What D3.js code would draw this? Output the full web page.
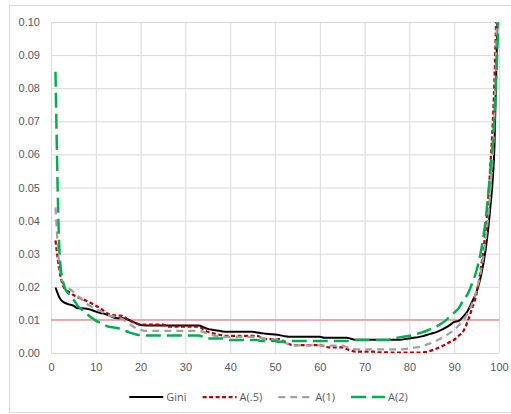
<!DOCTYPE html>
<html>
<head>
<meta charset="utf-8">
<script src="https://cdn.jsdelivr.net/npm/d3@7"></script>
<style>
  html, body { margin: 0; padding: 0; background: #fff; }
  svg { display: block; font-family: "Open Sans", "Liberation Sans", sans-serif; }
</style>
</head>
<body>
<svg id="chart" width="511" height="414"></svg>
<script>
// percentile index on the x axis
const percentile = d3.range(1, 101);

const gini = [
  0.0198, 0.0165, 0.0152, 0.0147, 0.0143, 0.0135, 0.0135, 0.0134, 0.0130, 0.0125,
  0.0121, 0.0118, 0.0113, 0.0107, 0.0105, 0.0105, 0.0102, 0.0096, 0.0090, 0.0085,
  0.0083, 0.0083, 0.0083, 0.0083, 0.0083, 0.0083, 0.0083, 0.0083, 0.0083, 0.0083,
  0.0083, 0.0083, 0.0083, 0.0078, 0.0073, 0.0070, 0.0068, 0.0066, 0.0064, 0.0064,
  0.0064, 0.0064, 0.0064, 0.0064, 0.0064, 0.0062, 0.0060, 0.0058, 0.0057, 0.0056,
  0.0054, 0.0051, 0.0049, 0.0049, 0.0049, 0.0049, 0.0049, 0.0049, 0.0049, 0.0049,
  0.0046, 0.0046, 0.0046, 0.0046, 0.0046, 0.0046, 0.0043, 0.0040, 0.0040, 0.0040,
  0.0040, 0.0040, 0.0040, 0.0040, 0.0040, 0.0040, 0.0040, 0.0040, 0.0042, 0.0044,
  0.0046, 0.0048, 0.0051, 0.0055, 0.0059, 0.0063, 0.0069, 0.0076, 0.0084, 0.0094,
  0.0097, 0.0110, 0.0127, 0.0155, 0.0185, 0.0235, 0.0310, 0.0430, 0.0630, 0.1200
];

const a05 = [
  0.0340, 0.0240, 0.0195, 0.0185, 0.0175, 0.0168, 0.0163, 0.0157, 0.0150, 0.0143,
  0.0135, 0.0125, 0.0117, 0.0114, 0.0113, 0.0112, 0.0103, 0.0095, 0.0089, 0.0086,
  0.0086, 0.0086, 0.0086, 0.0086, 0.0086, 0.0080, 0.0080, 0.0080, 0.0080, 0.0080,
  0.0080, 0.0080, 0.0080, 0.0071, 0.0064, 0.0060, 0.0057, 0.0054, 0.0052, 0.0052,
  0.0052, 0.0052, 0.0052, 0.0052, 0.0052, 0.0052, 0.0046, 0.0042, 0.0042, 0.0042,
  0.0042, 0.0035, 0.0028, 0.0024, 0.0024, 0.0024, 0.0024, 0.0024, 0.0024, 0.0024,
  0.0020, 0.0017, 0.0017, 0.0017, 0.0017, 0.0012, 0.0007, 0.0004, 0.0004, 0.0004,
  0.0004, 0.0004, 0.0002, 0.0002, 0.0002, 0.0001, 0.0001, 0.0001, 0.0001, 0.0001,
  0.0001, 0.0001, 0.0002, 0.0004, 0.0008, 0.0013, 0.0019, 0.0025, 0.0033, 0.0040,
  0.0052, 0.0065, 0.0095, 0.0135, 0.0180, 0.0260, 0.0370, 0.0550, 0.0830, 0.1400
];

const a1 = [
  0.0440, 0.0250, 0.0205, 0.0195, 0.0185, 0.0172, 0.0160, 0.0148, 0.0140, 0.0133,
  0.0127, 0.0120, 0.0113, 0.0110, 0.0106, 0.0102, 0.0092, 0.0083, 0.0075, 0.0070,
  0.0067, 0.0067, 0.0067, 0.0067, 0.0067, 0.0067, 0.0067, 0.0067, 0.0067, 0.0067,
  0.0067, 0.0067, 0.0067, 0.0063, 0.0058, 0.0054, 0.0051, 0.0049, 0.0049, 0.0049,
  0.0049, 0.0049, 0.0049, 0.0049, 0.0049, 0.0049, 0.0045, 0.0041, 0.0041, 0.0041,
  0.0041, 0.0033, 0.0026, 0.0023, 0.0023, 0.0023, 0.0023, 0.0023, 0.0023, 0.0023,
  0.0022, 0.0022, 0.0022, 0.0022, 0.0022, 0.0018, 0.0014, 0.0011, 0.0011, 0.0011,
  0.0011, 0.0011, 0.0011, 0.0011, 0.0011, 0.0011, 0.0011, 0.0011, 0.0012, 0.0014,
  0.0016, 0.0018, 0.0021, 0.0026, 0.0031, 0.0037, 0.0044, 0.0051, 0.0060, 0.0070,
  0.0083, 0.0098, 0.0120, 0.0148, 0.0190, 0.0250, 0.0340, 0.0480, 0.0720, 0.1300
];

const a2 = [
  0.0850, 0.0280, 0.0200, 0.0178, 0.0162, 0.0142, 0.0130, 0.0118, 0.0107, 0.0098,
  0.0091, 0.0084, 0.0079, 0.0077, 0.0075, 0.0070, 0.0065, 0.0060, 0.0056, 0.0054,
  0.0053, 0.0053, 0.0053, 0.0053, 0.0053, 0.0053, 0.0053, 0.0053, 0.0053, 0.0053,
  0.0053, 0.0053, 0.0053, 0.0048, 0.0044, 0.0044, 0.0044, 0.0044, 0.0044, 0.0039,
  0.0039, 0.0039, 0.0039, 0.0039, 0.0039, 0.0039, 0.0036, 0.0036, 0.0036, 0.0036,
  0.0034, 0.0034, 0.0036, 0.0036, 0.0036, 0.0036, 0.0036, 0.0036, 0.0036, 0.0036,
  0.0036, 0.0036, 0.0036, 0.0036, 0.0036, 0.0036, 0.0039, 0.0039, 0.0039, 0.0039,
  0.0039, 0.0039, 0.0039, 0.0039, 0.0039, 0.0042, 0.0045, 0.0048, 0.0050, 0.0052,
  0.0055, 0.0059, 0.0063, 0.0068, 0.0074, 0.0080, 0.0088, 0.0097, 0.0110, 0.0122,
  0.0135, 0.0158, 0.0178, 0.0210, 0.0250, 0.0310, 0.0400, 0.0540, 0.0720, 0.1050
];

const seriesNames = ["Gini", "A(.5)", "A(1)", "A(2)"];
const seriesValues = [gini, a05, a1, a2];
const xTicks = [0, 10, 20, 30, 40, 50, 60, 70, 80, 90, 100];
const yTicks = [0, 0.01, 0.02, 0.03, 0.04, 0.05, 0.06, 0.07, 0.08, 0.09, 0.10];
const refValue = 0.01;

const styles = {
  "Gini":  { color: "#000000", dash: null,   width: 2 },
  "A(.5)": { color: "#c00000", dash: "4,2.5", width: 2.25 },
  "A(1)":  { color: "#a0a0a0", dash: "7,5",  width: 2.25 },
  "A(2)":  { color: "#00b050", dash: "15,6", width: 2.5 }
};

const svg = d3.select("#chart");
const margin = { top: 22, right: 12, bottom: 61, left: 51 };
const width = 511 - margin.left - margin.right;
const height = 414 - margin.top - margin.bottom;

// chart frame
svg.append("rect")
  .attr("x", 9.5).attr("y", 5.5)
  .attr("width", 520).attr("height", 407)
  .attr("fill", "#fff")
  .attr("stroke", "#d9d9d9");

const g = svg.append("g").attr("transform", `translate(${margin.left},${margin.top})`);

const x = d3.scaleLinear().domain([0, 100]).range([0, width]);
const y = d3.scaleLinear().domain([0, 0.10]).range([height, 0]);

const xAxis = g.append("g")
  .attr("transform", `translate(0,${height})`)
  .call(d3.axisBottom(x).tickValues(xTicks).tickSize(-height).tickPadding(10).tickFormat(d3.format("d")));

const yAxis = g.append("g")
  .call(d3.axisLeft(y).tickValues(yTicks).tickSize(-width).tickPadding(11).tickFormat(d3.format(".2f")));

[xAxis, yAxis].forEach(a => {
  a.select(".domain").remove();
  a.selectAll(".tick line").attr("stroke", "#d9d9d9");
  a.selectAll(".tick text")
    .attr("fill", "#595959")
    .style("font-size", "11px");
});

// 0.01 reference line
g.append("line")
  .attr("x1", x(0)).attr("x2", x(100))
  .attr("y1", y(refValue)).attr("y2", y(refValue))
  .attr("stroke", "#ff7c80")
  .attr("stroke-width", 1.25);

g.append("clipPath").attr("id", "plot-clip")
  .append("rect")
  .attr("x", 0).attr("y", 0)
  .attr("width", width).attr("height", height);

const line = d3.line()
  .x((d, i) => x(percentile[i]))
  .y(d => y(d))
  .curve(d3.curveMonotoneX);

g.append("g").attr("clip-path", "url(#plot-clip)")
  .selectAll("path")
  .data(seriesNames)
  .enter()
  .append("path")
  .attr("d", (name, i) => line(seriesValues[i]))
  .attr("fill", "none")
  .attr("stroke", name => styles[name].color)
  .attr("stroke-width", name => styles[name].width)
  .attr("stroke-dasharray", name => styles[name].dash);

// legend
const legend = svg.append("g").attr("transform", "translate(0,397)");
const items = legend.selectAll("g")
  .data(seriesNames)
  .enter()
  .append("g");

items.append("line")
  .attr("x1", 0).attr("x2", 34)
  .attr("stroke", name => styles[name].color)
  .attr("stroke-width", name => styles[name].width)
  .attr("stroke-dasharray", name => styles[name].dash);

items.append("text")
  .attr("x", 37)
  .attr("dy", "0.35em")
  .attr("fill", "#595959")
  .style("font-size", "11px")
  .text(d => d);

let widths = [];
items.each(function () { widths.push(this.getBBox().width); });
const gap = 16;
const total = d3.sum(widths) + gap * (widths.length - 1);
let cx = 268.5 - total / 2;
items.attr("transform", (d, i) => {
  const t = `translate(${cx},0)`;
  cx += widths[i] + gap;
  return t;
});
</script>
</body>
</html>
